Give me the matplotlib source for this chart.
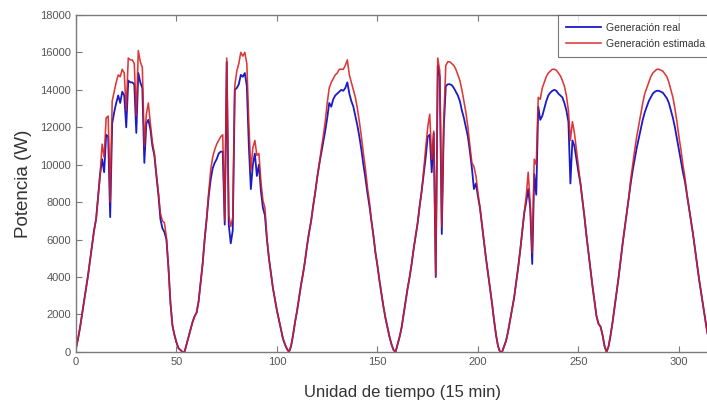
import matplotlib
matplotlib.use("Agg")
import matplotlib.pyplot as plt
import numpy as np

# Potencia medida cada 15 min (W)
real = [
    200, 700, 1300, 2000, 2700, 3400, 4100, 4900, 5700, 6500,
    7100, 8300, 9500, 10300, 9600, 11600, 11500, 7200, 12200, 12800,
    13300, 13700, 13300, 13900, 13700, 12000, 14500, 14400, 14400, 14300,
    11700, 14900, 14400, 14100, 10100, 12200, 12400, 11900, 11000, 10500,
    9400, 8400, 7100, 6600, 6400, 6000, 4500, 2600, 1400, 900,
    500, 200, 100, 0, 0, 400, 800, 1200, 1600, 1900,
    2100, 2700, 3700, 4700, 6000, 7100, 8300, 9200, 9800, 10100,
    10300, 10600, 10700, 10700, 6800, 15500, 6800, 5800, 6500, 14000,
    14100, 14300, 14800, 14700, 14900, 14200, 11000, 8700, 10000, 10600,
    9400, 10000, 8600, 7700, 7300, 6000, 5000, 4200, 3400, 2800,
    2200, 1700, 1200, 700, 400, 150, 0, 300, 900, 1600,
    2200, 2900, 3600, 4200, 4900, 5700, 6400, 7000, 7800, 8500,
    9300, 10000, 10600, 11200, 11800, 12500, 13300, 13100, 13500, 13700,
    13800, 13900, 14000, 13950, 14100, 14400, 13800, 13400, 13100, 12600,
    12100, 11500, 10800, 10000, 9300, 8500, 7800, 7000, 6200, 5300,
    4600, 3800, 3100, 2400, 1800, 1300, 800, 400, 100, 0,
    400, 800, 1300, 2000, 2700, 3400, 4000, 4700, 5500, 6200,
    6900, 7800, 8600, 9500, 10400, 11500, 11600, 9600, 11700, 4000,
    15300, 14700, 6300, 12000, 14200, 14300, 14300, 14250, 14100, 13900,
    13700, 13400, 12900, 12500, 12000, 11500, 10700, 9800, 8700, 9000,
    8300, 7700, 6800, 5900, 5000, 4200, 3400, 2600, 1700, 900,
    300, 0, 0, 300, 600, 1100, 1700, 2300, 2900, 3700,
    4500, 5400, 6400, 7400, 8000, 8700, 7700, 4700, 9500, 8400,
    13100, 12400, 12600, 13000, 13400, 13700, 13850, 13950, 14000, 13950,
    13800, 13700, 13600, 13300, 12900, 12300, 9000, 11300, 11000, 10300,
    9600, 9000, 8100, 7200, 6200, 5300, 4400, 3500, 2700, 1900,
    1500, 1350, 900, 300, 0, 300, 900, 1600, 2400, 3200,
    4000, 4900, 5800, 6600, 7400, 8200, 9000, 9700, 10300, 10900,
    11400, 11900, 12400, 12800, 13100, 13400, 13600, 13800, 13900, 13950,
    13950, 13900, 13850, 13700, 13550, 13300, 12900, 12500, 12000, 11400,
    10800, 10200, 9600, 9100, 8400, 7700, 7000, 6300, 5500, 4700,
    3900, 3200, 2500, 1800, 1100, 600, 200,
]

estimada = [
    200, 700, 1300, 2000, 2700, 3400, 4100, 4900, 5700, 6500,
    7100, 8300, 9500, 11100, 10400, 12500, 12600, 8000, 13400, 13900,
    14400, 14800, 14700, 15100, 14900, 12900, 15700, 15600, 15600, 15400,
    12600, 16100, 15500, 15200, 11000, 12700, 13300, 12200, 11200, 10600,
    9500, 8500, 7400, 7000, 6900, 6100, 4500, 2600, 1400, 900,
    500, 200, 100, 0, 0, 400, 800, 1200, 1600, 1900,
    2100, 2700, 3700, 4700, 6000, 7100, 8500, 9700, 10400, 10800,
    11100, 11300, 11500, 11600, 7000, 15700, 7300, 6700, 7200, 14200,
    15000, 15400, 16000, 15800, 16000, 15400, 12200, 9700, 10900, 11300,
    10500, 10600, 9100, 8100, 7700, 6100, 5000, 4200, 3400, 2800,
    2200, 1700, 1200, 700, 400, 150, 0, 300, 900, 1600,
    2200, 2900, 3600, 4200, 4900, 5700, 6400, 7000, 7800, 8500,
    9300, 10000, 10800, 11500, 12300, 13300, 14100, 14400, 14600, 14800,
    14900, 15100, 15100, 15100, 15300, 15600, 14800, 14400, 14000, 13600,
    13000, 12300, 11500, 10600, 9800, 8800, 8000, 7000, 6200, 5300,
    4600, 3800, 3100, 2400, 1800, 1300, 800, 400, 100, 0,
    400, 800, 1300, 2000, 2700, 3400, 4000, 4700, 5500, 6200,
    6900, 7800, 8600, 9700, 10900, 12000, 12700, 10300, 11800, 4100,
    15700, 15000, 6700, 12400, 15300, 15500, 15500, 15400, 15300, 15100,
    14800, 14500, 14000, 13400, 12800, 12000, 11000, 10100, 9900, 9400,
    8500, 7700, 6800, 5900, 5000, 4200, 3400, 2600, 1700, 900,
    300, 0, 0, 300, 600, 1100, 1700, 2300, 2900, 3700,
    4500, 5400, 6400, 7400, 8300, 9600, 7900, 5300, 10300, 10000,
    13600, 13500, 14100, 14400, 14700, 14900, 15000, 15100, 15100, 15050,
    14900, 14750, 14500, 14200, 13700, 12900, 11300, 12300, 11700, 10800,
    9900, 9000, 8100, 7200, 6200, 5300, 4400, 3500, 2700, 1900,
    1500, 1350, 900, 300, 0, 300, 900, 1600, 2400, 3200,
    4000, 4900, 5800, 6600, 7400, 8200, 9200, 10000, 10800, 11500,
    12100, 12700, 13300, 13800, 14100, 14400, 14700, 14900, 15000, 15100,
    15100, 15050, 15000, 14850, 14700, 14400, 14000, 13600, 13000, 12300,
    11500, 10800, 10000, 9300, 8400, 7700, 7000, 6300, 5500, 4700,
    3900, 3200, 2500, 1800, 1100, 600, 200,
]

xticks = [0, 50, 100, 150, 200, 250, 300]
yticks = list(range(0, 18001, 2000))

t = np.arange(len(real))

sans = ["Liberation Sans", "DejaVu Sans"]

fig = plt.figure(figsize=(7.07, 4.16), dpi=100)
# el eje sigue más allá del borde derecho de la figura
ax = fig.add_axes([0.1075, 0.154, 0.925, 0.81])

ax.plot(t, real, color="#1a1ac8", lw=1.3, label="Generación real")
ax.plot(t, estimada, color="#d81c1c", lw=1.15, alpha=0.88,
        label="Generación estimada")

ax.set_xlim(0, 325.4)
ax.set_ylim(0, 18000)
ax.set_xticks(xticks)
ax.set_yticks(yticks)

for s in ax.spines.values():
    s.set_color("#7a7a7a")
    s.set_linewidth(1.0)

ax.tick_params(direction="in", length=4, width=0.8, color="#7a7a7a",
               labelcolor="#555555", labelsize=8, top=True, right=True)
for lab in ax.get_xticklabels() + ax.get_yticklabels():
    lab.set_family(sans)

ax.set_ylabel("Potencia (W)", fontsize=13.5, color="#333333",
              family=sans, labelpad=6)
ax.set_xlabel("Unidad de tiempo (15 min)", fontsize=12, color="#333333",
              family=sans, labelpad=13)

leg = ax.legend(loc="upper left", bbox_to_anchor=(0.737, 1.0),
                borderaxespad=0, frameon=True, fancybox=False,
                handlelength=3.4, handletextpad=0.5, borderpad=0.75,
                labelspacing=0.6, prop={"family": sans, "size": 7.5})
leg.get_frame().set_edgecolor("#555555")
leg.get_frame().set_linewidth(0.8)
for txt in leg.get_texts():
    txt.set_color("#333333")

fig.savefig("out.png", dpi=100)
